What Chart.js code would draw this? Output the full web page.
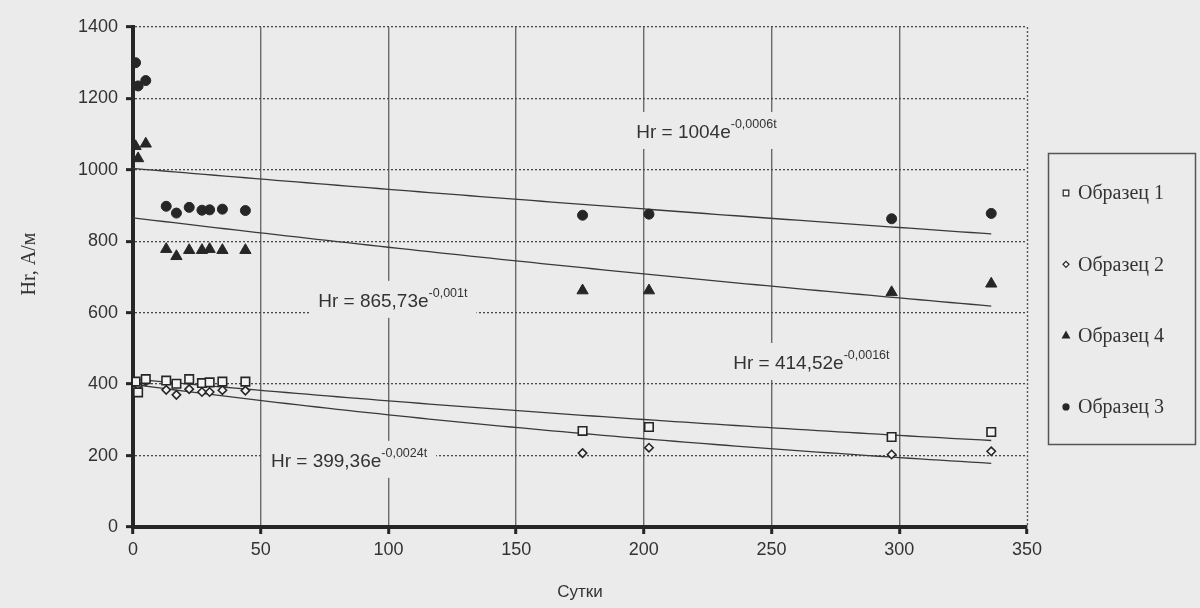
<!DOCTYPE html>
<html>
<head>
<meta charset="utf-8">
<script src="https://cdn.jsdelivr.net/npm/chart.js@4/dist/chart.umd.min.js"></script>
<style>
    html, body { margin: 0; padding: 0; background: #ebebeb; }
    #wrap { width: 1200px; height: 608px; }
</style>
</head>
<body>
<div id="wrap"><canvas id="hrChart" width="1200" height="608"></canvas></div>
<script>
// сутки измерений
const days = [1, 2, 5, 13, 17, 22, 27, 30, 35, 44, 176, 202, 297, 336];

// Hr, А/м по образцам
const sample1 = [407, 377, 414, 410, 401, 414, 403, 405, 407, 407, 269, 280, 252, 266];
const sample2 = [389, 396, 408, 384, 370, 386, 378, 378, 383, 382, 207, 222, 203, 212];
const sample4 = [1066, 1032, 1073, 778, 758, 775, 775, 778, 775, 775, 662, 662, 657, 681];
const sample3 = [1300, 1235, 1250, 898, 879, 895, 887, 888, 890, 886, 873, 876, 863, 878];

const legendNames = ['Образец 1', 'Образец 2', 'Образец 4', 'Образец 3'];

const xTicks = [0, 50, 100, 150, 200, 250, 300, 350];
const yTicks = [0, 200, 400, 600, 800, 1000, 1200, 1400];

// линии тренда Hr = a·e^(b·t)
const trendA = [1004, 865.73, 414.52, 399.36];
const trendB = [-0.0006, -0.001, -0.0016, -0.0024];
const trendText = ['Hr = 1004e', 'Hr = 865,73e', 'Hr = 414,52e', 'Hr = 399,36e'];
const trendPow = ['-0,0006t', '-0,001t', '-0,0016t', '-0,0024t'];
// где стоят подписи уравнений (сутки, Hr)
const trendLabelAt = [[197, 1109], [72.5, 636], [235, 462], [54, 188]];

const toPoints = ys => days.map((d, i) => ({ x: d, y: ys[i] }));

function trendPoints(a, b) {
    const pts = [];
    for (let t = 0; t <= 336; t += 4) pts.push({ x: t, y: a * Math.exp(b * t) });
    return pts;
}

const INK = '#262626';
const BG = '#ebebeb';

const markers = [
    { style: 'rect', radius: 6, fill: '#f4f4f4', width: 1.6 },
    { style: 'rectRot', radius: 4.2, fill: '#f4f4f4', width: 1.6 },
    { style: 'triangle', radius: 6.5, fill: INK, width: 1 },
    { style: 'circle', radius: 5, fill: INK, width: 1 }
];
const sampleData = [sample1, sample2, sample4, sample3];

const datasets = sampleData.map((ys, i) => ({
    type: 'scatter',
    label: legendNames[i],
    data: toPoints(ys),
    pointStyle: markers[i].style,
    pointRadius: markers[i].radius,
    pointBackgroundColor: markers[i].fill,
    pointBorderColor: INK,
    pointBorderWidth: markers[i].width,
    showLine: false
}));

trendA.forEach((a, i) => {
    datasets.push({
        type: 'line',
        label: 'trend' + i,
        data: trendPoints(a, trendB[i]),
        borderColor: '#3a3a3a',
        borderWidth: 1.3,
        pointRadius: 0,
        tension: 0,
        fill: false
    });
});

function drawMarker(ctx, style, x, y, r) {
    ctx.beginPath();
    if (style === 'rect') {
        ctx.rect(x - r, y - r, 2 * r, 2 * r);
    } else if (style === 'rectRot') {
        ctx.moveTo(x, y - r); ctx.lineTo(x + r, y); ctx.lineTo(x, y + r); ctx.lineTo(x - r, y);
        ctx.closePath();
    } else if (style === 'triangle') {
        ctx.moveTo(x, y - r); ctx.lineTo(x + r * 0.9, y + r * 0.6); ctx.lineTo(x - r * 0.9, y + r * 0.6);
        ctx.closePath();
    } else {
        ctx.arc(x, y, r, 0, Math.PI * 2);
    }
    ctx.fill();
    ctx.stroke();
}

// подписи уравнений, подпись оси Y, правая граница и легенда
const extras = {
    id: 'extras',
    beforeDatasetsDraw(chart) {
        const { ctx, scales: { x, y } } = chart;
        ctx.save();
        trendText.forEach((txt, i) => {
            const px = x.getPixelForValue(trendLabelAt[i][0]);
            const py = y.getPixelForValue(trendLabelAt[i][1]);
            ctx.font = '19px "Liberation Sans", Arial, sans-serif';
            const w1 = ctx.measureText(txt).width;
            ctx.font = '12.5px "Liberation Sans", Arial, sans-serif';
            const w2 = ctx.measureText(trendPow[i]).width;
            ctx.fillStyle = BG;
            ctx.fillRect(px - 9, py - 19, w1 + w2 + 18, 37);
            ctx.fillStyle = '#333';
            ctx.textBaseline = 'alphabetic';
            ctx.font = '19px "Liberation Sans", Arial, sans-serif';
            ctx.fillText(txt, px, py + 7);
            ctx.font = '12.5px "Liberation Sans", Arial, sans-serif';
            ctx.fillText(trendPow[i], px + w1, py - 3);
        });
        ctx.restore();
    },
    afterDraw(chart) {
        const { ctx, chartArea } = chart;
        ctx.save();
        // подпись оси Y
        ctx.translate(30, 264);
        ctx.rotate(-Math.PI / 2);
        ctx.font = '20px "Liberation Serif", "Times New Roman", serif';
        ctx.fillStyle = '#333';
        ctx.textAlign = 'center';
        ctx.textBaseline = 'middle';
        ctx.fillText('Hr, А/м', 0, 0);
        ctx.restore();

        ctx.save();
        // правая граница области построения
        ctx.strokeStyle = '#555';
        ctx.lineWidth = 1.4;
        ctx.setLineDash([2, 2]);
        ctx.beginPath();
        ctx.moveTo(chartArea.right + 0.5, chartArea.top);
        ctx.lineTo(chartArea.right + 0.5, chartArea.bottom);
        ctx.stroke();
        ctx.setLineDash([]);

        // легенда
        ctx.strokeStyle = '#555';
        ctx.lineWidth = 1.5;
        ctx.strokeRect(1048.5, 153.5, 147, 291);
        ctx.font = '20px "Liberation Serif", "Times New Roman", serif';
        ctx.textBaseline = 'middle';
        legendNames.forEach((name, i) => {
            const cy = 193 + i * 71.3;
            const m = markers[i];
            ctx.fillStyle = m.fill;
            ctx.strokeStyle = INK;
            ctx.lineWidth = 1.2;
            const r = m.style === 'rect' ? 2.8 : m.style === 'rectRot' ? 3 : m.style === 'triangle' ? 3.8 : 3;
            drawMarker(ctx, m.style, 1066, cy, r);
            ctx.fillStyle = '#333';
            ctx.fillText(name, 1078, cy + 1);
        });
        ctx.restore();
    }
};

const tickFont = { family: '"Liberation Sans", Arial, sans-serif', size: 18 };

new Chart(document.getElementById('hrChart'), {
    data: { datasets },
    options: {
        responsive: false,
        animation: false,
        events: [],
        layout: { padding: { top: 27, right: 173, left: 0, bottom: 0 } },
        plugins: { legend: { display: false }, tooltip: { enabled: false } },
        scales: {
            x: {
                type: 'linear',
                min: 0,
                max: 350,
                afterFit: s => { s.height = 81; },
                afterBuildTicks: s => { s.ticks = xTicks.map(v => ({ value: v })); },
                grid: {
                    color: c => (c.tick && (c.tick.value === 0 || c.tick.value === 350)) ? 'rgba(0,0,0,0)' : '#6a6a6a',
                    lineWidth: 1.4,
                    tickLength: 7,
                    tickColor: INK,
                    tickWidth: 3
                },
                border: { color: INK, width: 4 },
                ticks: { font: tickFont, color: '#333', padding: 5, maxRotation: 0, callback: v => String(v) },
                title: {
                    display: true,
                    text: 'Сутки',
                    font: { family: '"Liberation Sans", Arial, sans-serif', size: 17 },
                    color: '#333',
                    padding: { top: 0, bottom: 5 }
                }
            },
            y: {
                type: 'linear',
                min: 0,
                max: 1400,
                afterFit: s => { s.width = 133; },
                afterBuildTicks: s => { s.ticks = yTicks.map(v => ({ value: v })); },
                grid: {
                    color: c => (c.tick && c.tick.value === 0) ? 'rgba(0,0,0,0)' : '#4a4a4a',
                    lineWidth: 1.3,
                    tickLength: 7,
                    tickColor: INK,
                    tickWidth: 3
                },
                border: { color: INK, width: 4, dash: [2, 2] },
                ticks: { font: tickFont, color: '#333', padding: 8, callback: v => String(v) }
            }
        }
    },
    plugins: [extras]
});
</script>
</body>
</html>
